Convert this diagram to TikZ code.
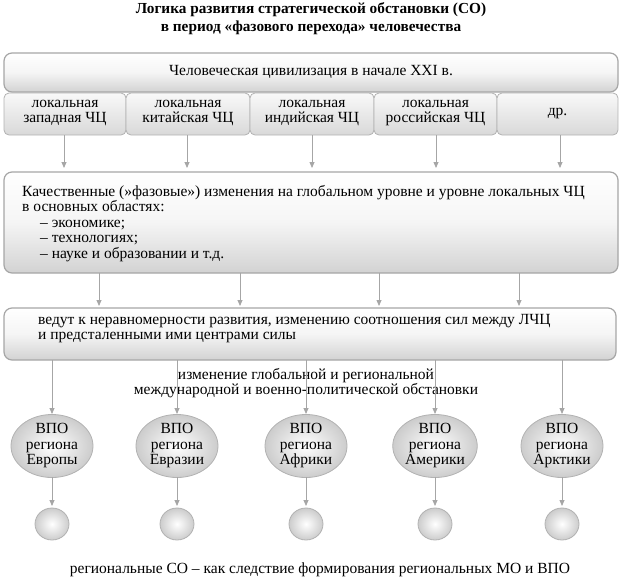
\documentclass[tikz,border=0pt]{standalone}
\usepackage{fontspec}
\setmainfont{Liberation Serif}
\usetikzlibrary{arrows.meta,shapes.geometric}
\begin{document}
\begin{tikzpicture}[x=1pt,y=-1pt,
  bar/.style={draw=gray!70,line width=1.2pt,rounded corners=8pt,top color=white,bottom color=gray!35,middle color=gray!8},
  cell/.style={draw=gray!60,line width=0.8pt,rounded corners=5pt,top color=gray!5,bottom color=gray!30},
  ball/.style={draw=gray!60,line width=0.8pt,ellipse,inner color=white,outer color=gray!40},
  arr/.style={draw=gray!70,line width=0.8pt,-{Triangle[length=6pt,width=5pt]}},
  txt/.style={font=\fontsize{15.5}{15.5}\selectfont,align=center,inner sep=0}]
\useasboundingbox (0,0) rectangle (623,581);
\node[txt,font=\bfseries\fontsize{15.3}{18}\selectfont] (t) at (311,19) {Логика развития стратегической обстановки (СО)\\в период «фазового перехода» человечества};
\draw[bar] (4,53) rectangle (618,92);
\node[txt] (top) at (311,72) {Человеческая цивилизация в начале XXI в.};
\foreach \a/\b/\n/\t in {4/126/c1/{локальная\\западная ЧЦ},126/250/c2/{локальная\\китайская ЧЦ},250/374/c3/{локальная\\индийская ЧЦ},374/497/c4/{локальная\\российская ЧЦ},497/618/c5/{др.}}{
  \draw[cell] (\a,93) rectangle (\b,135);
  \node[txt] (\n) at ({(\a+\b)/2},113) {\t};
}
\draw[bar] (4,172) rectangle (618,273);
\node[txt,anchor=north west,align=left] (mid) at (22,185) {Качественные (»фазовые») изменения на глобальном уровне и уровне локальных ЧЦ\\в основных областях:\\\hspace{18pt}– экономике;\\\hspace{18pt}– технологиях;\\\hspace{18pt}– науке и образовании и т.д.};
\foreach \x in {64,187,312,436,560} \draw[arr] (\x,135) -- (\x,168);
\foreach \x in {99,240,379,519} \draw[arr] (\x,273) -- (\x,306);
\draw[bar] (4,308) rectangle (616,360);
\node[txt,anchor=north west,align=left] (b3) at (38,314) {ведут к неравномерности развития, изменению соотношения сил между ЛЧЦ\\и предсталенными ими центрами силы};
\node[txt] (chg) at (306,383) {изменение глобальной и региональной\\международной и военно-политической обстановки};
\foreach \x/\n/\t in {52/e1/Европы,177/e2/Евразии,306/e3/Африки,435/e4/Америки,562/e5/Арктики}{
  \draw[arr] (\x,360) -- (\x,414);
  \node[ball,minimum width=82pt,minimum height=62pt,txt,draw=gray!60] (\n) at (\x,446) {ВПО\\региона\\\t};
  \node[ball,minimum width=34pt,minimum height=32pt,inner sep=0] (s\n) at (\x,524) {};
  \draw[arr] (\x,477) -- (\x,506);
}
\node[txt] (bot) at (320,570) {региональные СО – как следствие формирования региональных МО и ВПО};
\end{tikzpicture}
\end{document}
